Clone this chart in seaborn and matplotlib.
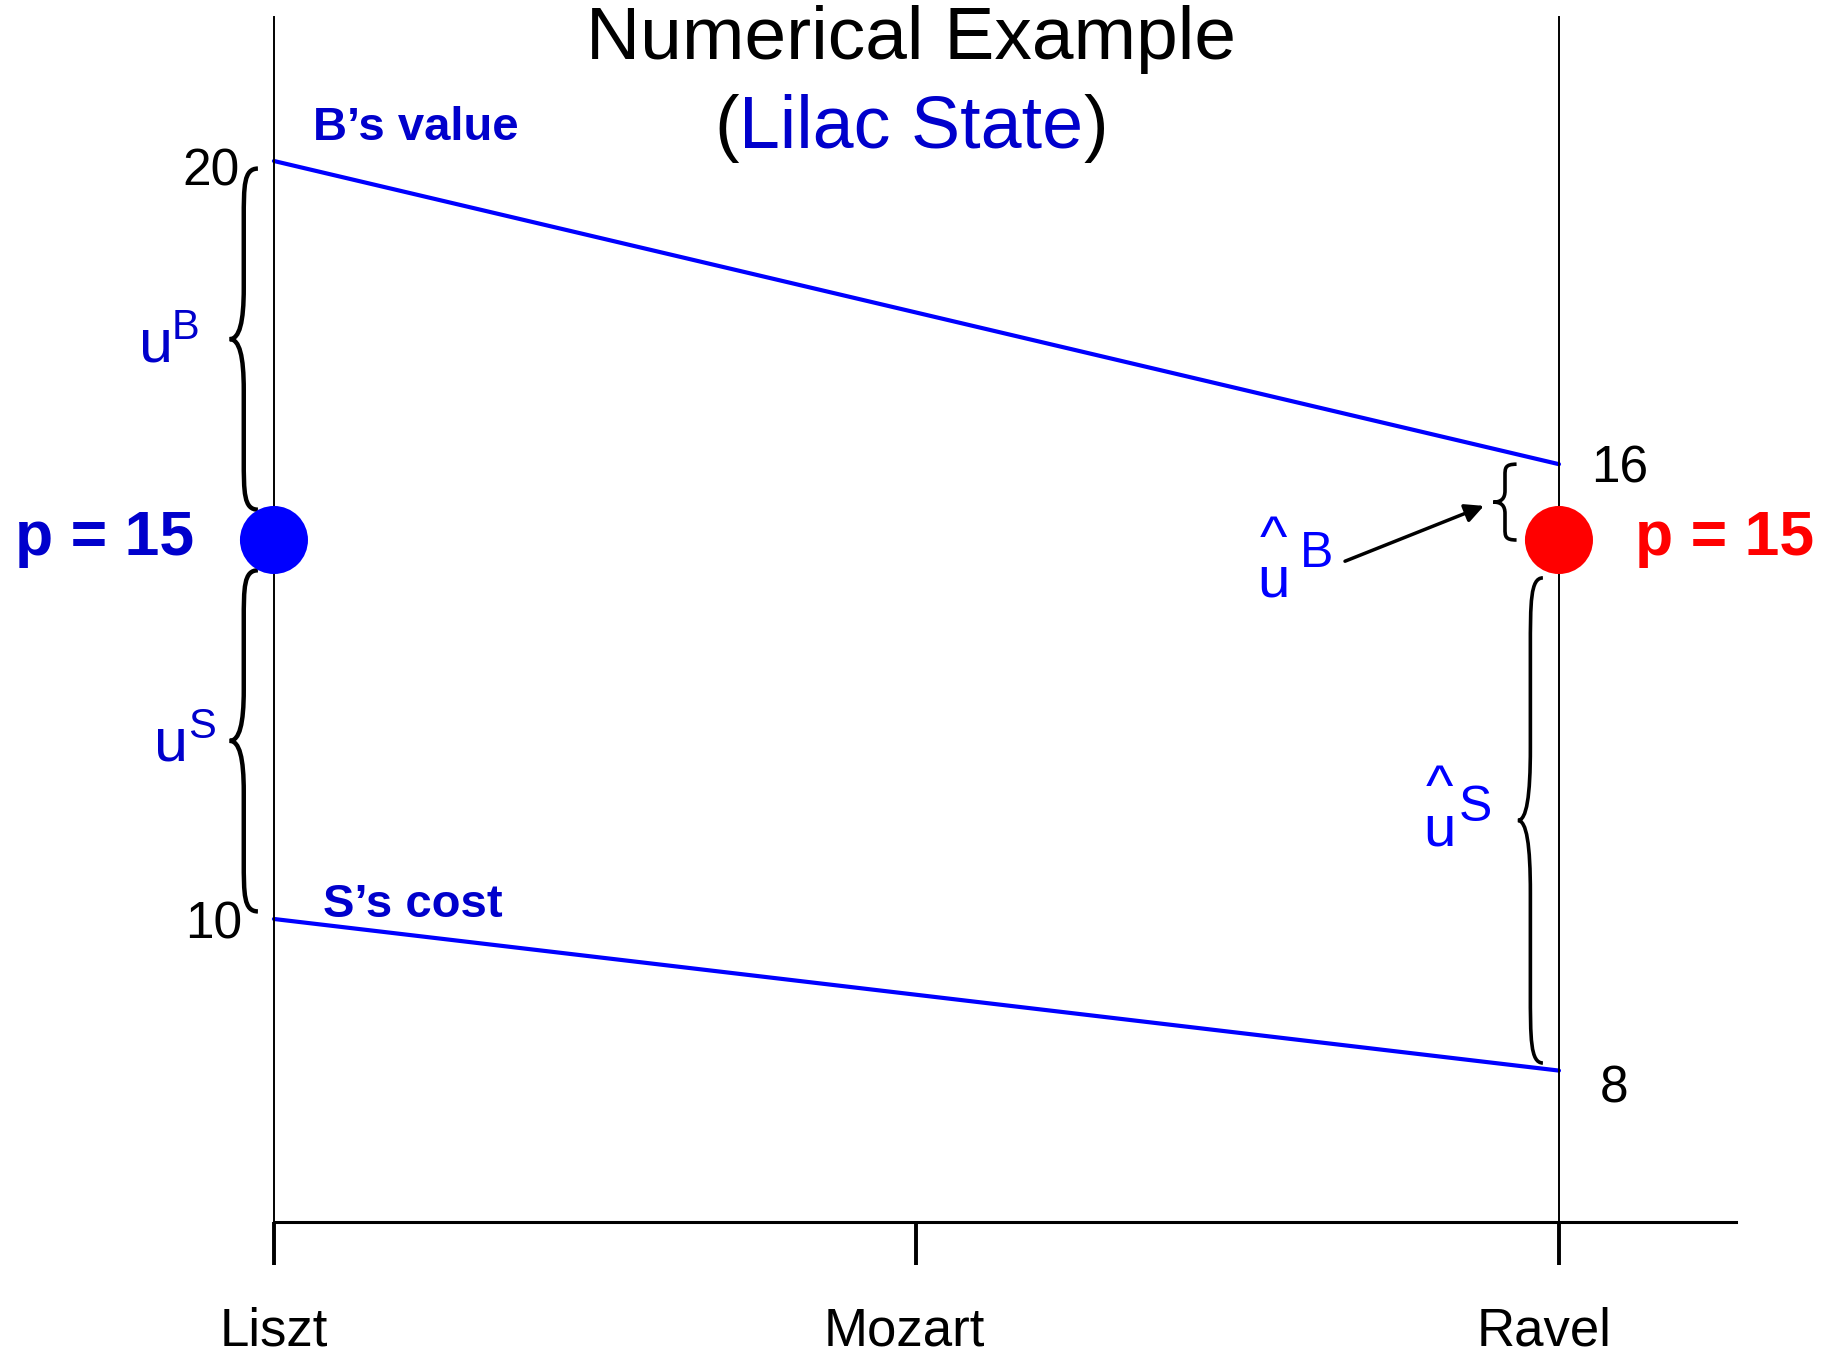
import matplotlib
matplotlib.use('Agg')
import matplotlib.pyplot as plt
import matplotlib.transforms as mtransforms
import seaborn as sns
import pandas as pd
from matplotlib.path import Path
from matplotlib.patches import PathPatch

# data
composers = ['Liszt', 'Mozart', 'Ravel']
comp_pos = [0, 0.5, 1]
ends_pos = [0, 1]
b_value = [20, 16]
s_cost = [10, 8]
price = 15
# brace spans (top, bottom) in value units
left_braces = [(19.9, 15.4), (14.6, 10.1)]
right_braces = [(16.0, 15.0), (14.5, 8.1)]

sns.set_theme(style='white')
plt.rcParams['font.family'] = ['Liberation Sans', 'DejaVu Sans']

BLUE = '#0000FF'
DBLUE = '#0000CC'
RED = '#FF0000'

fig = plt.figure(figsize=(18.31, 13.59), dpi=100)
ax = fig.add_axes([0, 0, 1, 1])

lines = pd.DataFrame({
    'pos': ends_pos * 2,
    'value': b_value + s_cost,
    'series': ["B's value"] * 2 + ["S's cost"] * 2,
})
sns.lineplot(data=lines, x='pos', y='value', hue='series',
             palette=[BLUE, BLUE], lw=3, legend=False, ax=ax)

dots = pd.DataFrame({'pos': ends_pos, 'value': [price, price], 'who': ['B', 'S']})
sns.scatterplot(data=dots, x='pos', y='value', hue='who', palette=[BLUE, RED],
                s=2400, edgecolor='none', legend=False, zorder=5, ax=ax)

# axes frame: two verticals + bottom axis
ax.set_xlim(-0.2132, 1.2117)
ax.set_ylim(4.195, 22.124)
ax.spines['top'].set_visible(False)
ax.spines['left'].set_position(('data', 0))
ax.spines['left'].set_bounds(6, 21.9)
ax.spines['right'].set_position(('data', 1))
ax.spines['right'].set_bounds(6, 21.9)
ax.spines['bottom'].set_position(('data', 6))
ax.spines['bottom'].set_bounds(0, 1.138)
for s in ['left', 'right']:
    ax.spines[s].set_color('black')
    ax.spines[s].set_linewidth(1.4)
ax.spines['bottom'].set_color('black')
ax.spines['bottom'].set_linewidth(2.2)
ax.set_xticks(comp_pos, composers)
ax.set_yticks([])
ax.tick_params(axis='x', direction='out', length=31, width=2.8, pad=30,
               labelsize=38, bottom=True, colors='black')
ax.set(xlabel='', ylabel='')
# labels sit a little left of their ticks in the original
for lab, dx in zip(ax.get_xticklabels(), [0, -9, -11]):
    lab.set_transform(lab.get_transform()
                      + mtransforms.ScaledTranslation(dx / 72, 0, fig.dpi_scale_trans))


def brace(x_right, x_left, top, bottom, lw=3.2):
    # left-pointing curly brace
    xm = (x_right + x_left) / 2
    mid = (top + bottom) / 2
    h = (top - bottom) / 2
    verts = [
        (x_right, top),
        (xm, top), (xm, top - 0.1 * h), (xm, top - 0.3 * h),
        (xm, mid + 0.3 * h),
        (xm, mid + 0.1 * h), (xm - 0.3 * (xm - x_left), mid), (x_left, mid),
        (xm - 0.3 * (xm - x_left), mid), (xm, mid - 0.1 * h), (xm, mid - 0.3 * h),
        (xm, bottom + 0.3 * h),
        (xm, bottom + 0.1 * h), (xm, bottom), (x_right, bottom),
    ]
    codes = [Path.MOVETO] + [Path.CURVE4] * 3 + [Path.LINETO] + [Path.CURVE4] * 6 \
        + [Path.LINETO] + [Path.CURVE4] * 3
    ax.add_patch(PathPatch(Path(verts, codes), fc='none', ec='black', lw=lw, zorder=4))


for top, bottom in left_braces:
    brace(-0.0125, -0.0345, top, bottom)
brace(0.967, 0.949, *right_braces[0], lw=2.6)
brace(0.9875, 0.968, *right_braces[1], lw=2.6)

# value labels
num = dict(fontsize=37, color='black', va='center')
ax.text(-0.027, b_value[0] - 0.14, str(b_value[0]), ha='right', **num)
ax.text(-0.025, s_cost[0] - 0.08, str(s_cost[0]), ha='right', **num)
ax.text(1.025, b_value[1] - 0.06, str(b_value[1]), ha='left', **num)
ax.text(1.032, s_cost[1] - 0.24, str(s_cost[1]), ha='left', **num)

ax.text(0.030, 20.43, "B\u2019s value", fontsize=34, fontweight='bold', color=DBLUE, va='center')
ax.text(0.038, 10.19, "S\u2019s cost", fontsize=34, fontweight='bold', color=DBLUE, va='center')

ax.text(-0.062, 14.8, f'p = {price}', fontsize=45, fontweight='bold', color=DBLUE,
        ha='right', va='baseline')
ax.text(1.059, 14.8, f'p = {price}', fontsize=45, fontweight='bold', color=RED,
        ha='left', va='baseline')

# u^B, u^S on the left
ax.text(-0.0918, 17.56, 'u', fontsize=44, color=DBLUE, ha='center', va='center')
ax.text(-0.0685, 17.80, 'B', fontsize=30, color=DBLUE, ha='center', va='center')
ax.text(-0.080, 12.30, 'u', fontsize=44, color=DBLUE, ha='center', va='center')
ax.text(-0.056, 12.53, 'S', fontsize=30, color=DBLUE, ha='center', va='center')

# hat labels on the right: caret stacked over u in one text
hat = dict(fontsize=42, color=BLUE, ha='center', va='center',
           multialignment='center', linespacing=0.68)
ax.text(0.778, 14.72, '^\nu', **hat)
ax.text(0.811, 14.82, 'B', fontsize=36, color=BLUE, ha='center', va='center')
ax.text(0.9066, 11.43, '^\nu', **hat)
ax.text(0.935, 11.47, 'S', fontsize=36, color=BLUE, ha='center', va='center')

ax.annotate('', xy=(0.9416, 15.45), xytext=(0.8335, 14.72),
            arrowprops=dict(arrowstyle='-|>', color='black', lw=2.5,
                            mutation_scale=28, shrinkA=0, shrinkB=0))

# title
ax.text(0.496, 21.6, 'Numerical Example', fontsize=54, color='black',
        ha='center', va='center')
mid = ax.text(0.496, 20.43, 'Lilac State', fontsize=53, color=DBLUE,
              ha='center', va='center')
ax.annotate('(', xy=(0, 0.5), xycoords=mid, fontsize=53, color='black',
            ha='right', va='center')
ax.annotate(')', xy=(1, 0.5), xycoords=mid, fontsize=53, color='black',
            ha='left', va='center')

fig.savefig('out.png', dpi=100, facecolor='white')
